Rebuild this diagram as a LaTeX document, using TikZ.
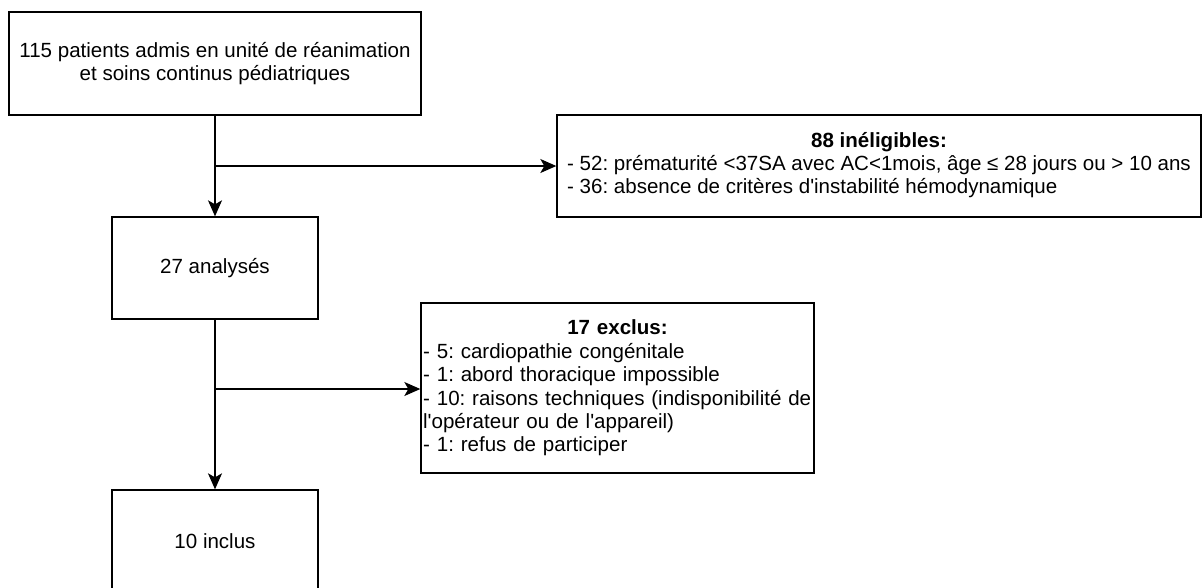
\documentclass[tikz,border=0pt]{standalone}
\usepackage{fontspec}
\setmainfont{Liberation Sans}
\usetikzlibrary{arrows.meta}
\frenchspacing
\begin{document}
\begin{tikzpicture}[x=0.75pt, y=-0.75pt,
  box/.style={draw, line width=1pt, inner sep=1.5pt, font=\fontsize{15.4}{17.6}\selectfont, align=center},
  listbox/.style={box, align=left},
  flow/.style={line width=1pt, -{Stealth[length=12pt, width=10.5pt, inset=3pt]}}]
\useasboundingbox (0,0) rectangle (1202,587);
\node[box, minimum width=309pt, minimum height=77.25pt] (pat) at (215,63.5){115 patients admis en unité de réanimation\\et soins continus pédiatriques};
\node[box, minimum width=483pt, minimum height=76.5pt] (inel) at (879,166){\renewcommand{\arraystretch}{0.97}\begin{tabular}{@{}l@{}}\multicolumn{1}{@{}c@{}}{\bfseries 88 inéligibles:}\\- 52: prématurité <37SA avec AC<1mois, âge ≤ 28 jours ou > 10 ans\\- 36: absence de critères d\textquotesingle instabilité hémodynamique\end{tabular}};
\node[listbox, minimum width=294.75pt, minimum height=127.5pt, text width=291.5pt] (excl) at (617.5,388){\makebox[\linewidth][c]{\bfseries 17 exclus:}\\- 5: cardiopathie congénitale\\- 1: abord thoracique impossible\\- 10: raisons techniques (indisponibilité de\\l\textquotesingle opérateur ou de l\textquotesingle appareil)\\- 1: refus de participer};
\node[box, minimum width=154.5pt, minimum height=76.5pt] (ana) at (215,268){27 analysés};
\node[box, minimum width=154.5pt, minimum height=76.5pt] (incl) at (215,541){10 inclus};
\coordinate (br1) at (215,166);
\coordinate (br2) at (215,389);
\draw[flow](pat) -- (ana);
\draw[flow](br1) -- (inel.west |- br1);
\draw[flow](ana) -- (incl);
\draw[flow](br2) -- (excl.west |- br2);
\end{tikzpicture}
\end{document}
